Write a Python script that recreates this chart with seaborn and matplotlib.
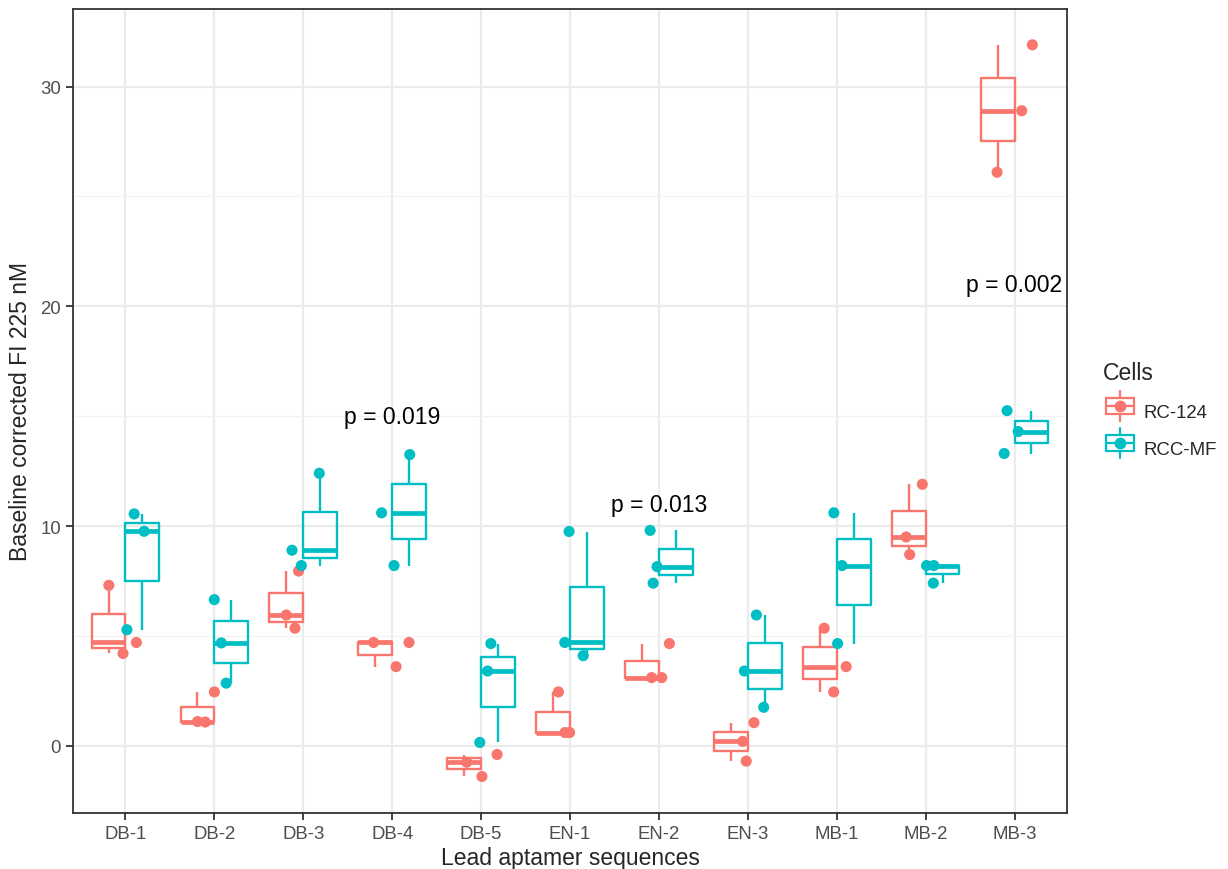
import numpy as np
import pandas as pd
import matplotlib.pyplot as plt
import seaborn as sns
from matplotlib.legend_handler import HandlerBase
from matplotlib.patches import Rectangle
from matplotlib.lines import Line2D

# Data (3 replicates per aptamer and cell line)
aptamers = ['DB-1', 'DB-2', 'DB-3', 'DB-4', 'DB-5', 'EN-1', 'EN-2', 'EN-3', 'MB-1', 'MB-2', 'MB-3']
cells = ['RC-124', 'RCC-MF']
rc124 = [[7.3, 4.7, 4.2], [2.45, 1.1, 1.08], [7.95, 5.95, 5.35], [4.7, 4.7, 3.6],
         [-0.4, -0.75, -1.4], [2.45, 0.6, 0.6], [4.65, 3.1, 3.1], [1.05, 0.2, -0.7],
         [5.35, 3.6, 2.45], [11.9, 9.5, 8.7], [31.9, 28.9, 26.1]]
rccmf = [[10.55, 9.76, 5.28], [6.65, 4.68, 2.85], [12.4, 8.9, 8.2], [13.25, 10.6, 8.2],
         [4.65, 3.4, 0.15], [9.75, 4.7, 4.1], [9.8, 8.15, 7.4], [5.95, 3.4, 1.75],
         [10.6, 8.2, 4.65], [8.2, 8.2, 7.4], [15.25, 14.3, 13.3]]
p_labels = ['p = 0.019', 'p = 0.013', 'p = 0.002']
p_groups = ['DB-4', 'EN-2', 'MB-3']
p_heights = [15, 11, 21]

rows = []
for cell, vals in zip(cells, [rc124, rccmf]):
    for apt, reps in zip(aptamers, vals):
        for v in reps:
            rows.append((apt, cell, v))
df = pd.DataFrame(rows, columns=['aptamer', 'Cells', 'value'])

pal = {'RC-124': '#F8766D', 'RCC-MF': '#00BFC4'}

sns.set_style('white')
plt.rcParams['font.family'] = ['Liberation Sans', 'DejaVu Sans']

fig = plt.figure(figsize=(12.28, 8.7), dpi=100)
ax = fig.add_axes([0.0594, 0.0644, 0.8095, 0.9241])

sns.boxplot(data=df, x='aptamer', y='value', hue='Cells', order=aptamers,
            hue_order=cells, palette=pal, fill=False, width=0.76, gap=0,
            whis=(0, 100), showcaps=False, showfliers=False, linewidth=1.7,
            medianprops={'linewidth': 3.4}, legend=False, ax=ax, zorder=3)

np.random.seed(7)
sns.stripplot(data=df, x='aptamer', y='value', hue='Cells', order=aptamers,
              hue_order=cells, palette=pal, dodge=False, jitter=0.22, size=8,
              linewidth=0, legend=False, ax=ax, zorder=4)

for lab, grp, h in zip(p_labels, p_groups, p_heights):
    ax.text(aptamers.index(grp), h, lab, ha='center', va='center', fontsize=16.6, color='black')

# Decorations
ax.set_xlim(-0.59, len(aptamers) - 0.41)
ax.set_ylim(-3.06, 33.53)
ax.set_yticks([0, 10, 20, 30])
ax.set_yticks([5, 15, 25], minor=True)
ax.grid(which='major', color='#EBEBEB', linewidth=1.6)
ax.grid(which='minor', axis='y', color='#F2F2F2', linewidth=0.9)
ax.set_axisbelow(True)
for s in ax.spines.values():
    s.set_color('#333333')
    s.set_linewidth(1.3)
ax.tick_params(axis='both', which='major', length=5, width=1.3, color='#333333',
               labelsize=13.4, labelcolor='#4D4D4D', direction='out', left=True, bottom=True)
ax.tick_params(axis='y', which='minor', length=0)
ax.set_xlabel('Lead aptamer sequences', fontsize=16.5, labelpad=3)
ax.set_ylabel('Baseline corrected FI 225 nM', fontsize=16.5, labelpad=6)


class BoxKey(HandlerBase):
    def create_artists(self, legend, orig, xd, yd, w, h, fontsize, trans):
        c = orig.get_color()
        cx, cy = xd + w / 2, yd + h / 2
        arts = [
            Line2D([cx, cx], [yd - 0.35 * h, yd + 1.35 * h], color=c, lw=1.6),
            Rectangle((xd + 0.1 * w, yd + 0.05 * h), 0.8 * w, 0.9 * h, facecolor='white', edgecolor=c, lw=1.6),
            Line2D([xd + 0.1 * w, xd + 0.9 * w], [cy, cy], color=c, lw=1.6),
            Line2D([cx], [cy], marker='o', color=c, markersize=7.5, lw=0),
        ]
        for a in arts:
            a.set_transform(trans)
        return arts


handles = [Line2D([], [], color=pal[c]) for c in cells]
leg = fig.legend(handles, cells, title='Cells', loc='upper left', bbox_to_anchor=(0.8844, 0.6026),
                 frameon=False, fontsize=13.4, title_fontsize=16.6, handler_map={Line2D: BoxKey()},
                 handlelength=1.88, handleheight=1.08, labelspacing=0.95, handletextpad=0.3)
leg._legend_box.align = 'left'

plt.savefig('out.png', dpi=100)
